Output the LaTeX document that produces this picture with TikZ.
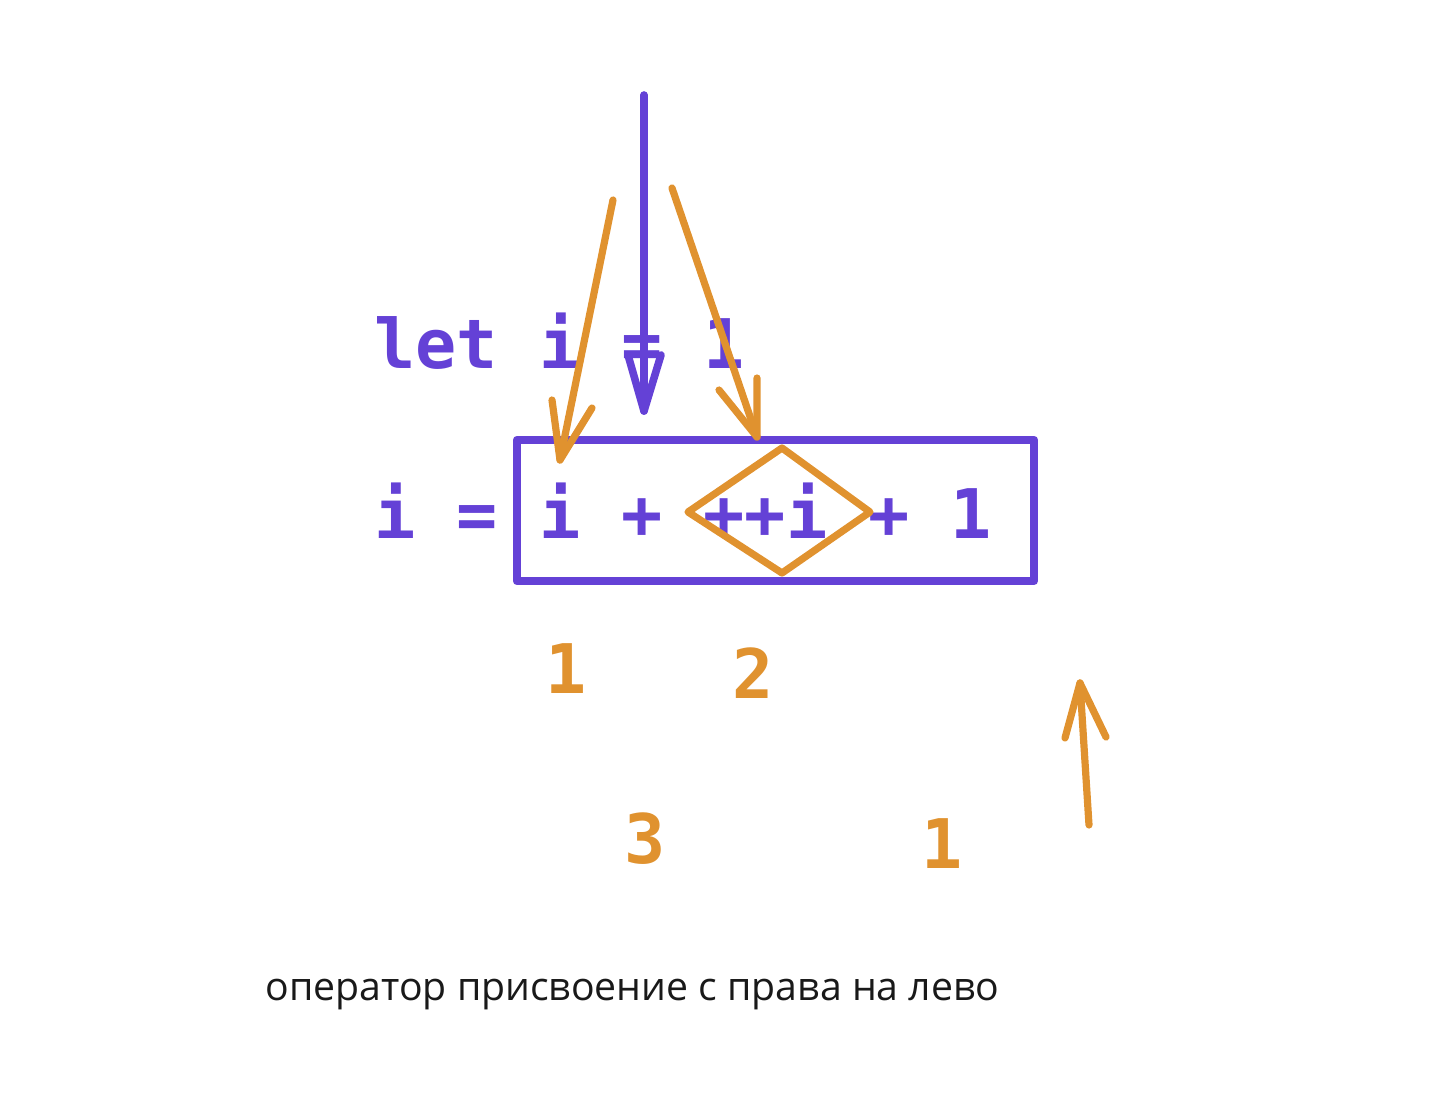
\documentclass[tikz,border=0pt]{standalone}
\usepackage{fontspec}
\setmonofont{DejaVu Sans Mono}
\newfontfamily\capfont{Open Sans}
\definecolor{vio}{HTML}{6441D6}
\definecolor{org}{HTML}{E0922F}
\begin{document}
\begin{tikzpicture}[x=0.5pt,y=-0.5pt,
  vline/.style={draw=vio,line width=3.8pt,line cap=round,line join=round},
  oline/.style={draw=org,line width=3.6pt,line cap=round,line join=round},
  code/.style={inner sep=0pt,anchor=base west,text=vio,font=\ttfamily\bfseries\fontsize{34.2pt}{40pt}\selectfont},
  num/.style={inner sep=0pt,anchor=base,text=org,font=\ttfamily\bfseries\fontsize{34.2pt}{40pt}\selectfont},
  captext/.style={inner sep=0pt,anchor=base west,text=black!90,font=\capfont\fontsize{19.6pt}{22pt}\selectfont}]
\useasboundingbox (0,0) rectangle (1448,1102);
% texts
\node[code] (let) at (374,368) {let i = 1};
\node[code] (expr) at (374,538) {i = i + ++i + 1};
\node[num] (n1) at (566,693) {1};
\node[num] (n2) at (753,698) {2};
\node[num] (n3) at (645,863) {3};
\node[num] (n4) at (942,868) {1};
\node[captext] (caption) at (265,1000) {оператор присвоение с права на лево};
% box
\coordinate (b1) at (517,440);
\coordinate (b2) at (1034,581);
\draw[vline,line width=4.2pt] (b1) rectangle (b2);
% diamond
\coordinate (dl) at (688,512);
\coordinate (dt) at (782,448);
\coordinate (dr) at (870,512);
\coordinate (db) at (782,573);
\draw[oline] (dl) -- (dt) -- (dr) -- (db) -- cycle;
% purple arrow
\coordinate (p0) at (644,95);
\coordinate (p1) at (644,411);
\coordinate (pl) at (628,355);
\coordinate (pr) at (661,355);
\draw[vline] (p0) -- (p1);
\draw[vline] (pl) -- (p1) -- (pr);
% orange arrow 1
\coordinate (a0) at (613,200);
\coordinate (a1) at (560,460);
\coordinate (al) at (552,400);
\coordinate (ar) at (592,408);
\draw[oline] (a0) -- (a1);
\draw[oline] (al) -- (a1) -- (ar);
% orange arrow 2
\coordinate (c0) at (672,188);
\coordinate (c1) at (757,437);
\coordinate (cl) at (719,390);
\coordinate (cr) at (757,378);
\draw[oline] (c0) -- (c1);
\draw[oline] (cl) -- (c1) -- (cr);
% orange arrow 3
\coordinate (e0) at (1089,825);
\coordinate (e1) at (1080,683);
\coordinate (el) at (1065,738);
\coordinate (er) at (1106,737);
\draw[oline] (e0) -- (e1);
\draw[oline] (el) -- (e1) -- (er);
\end{tikzpicture}
\end{document}
